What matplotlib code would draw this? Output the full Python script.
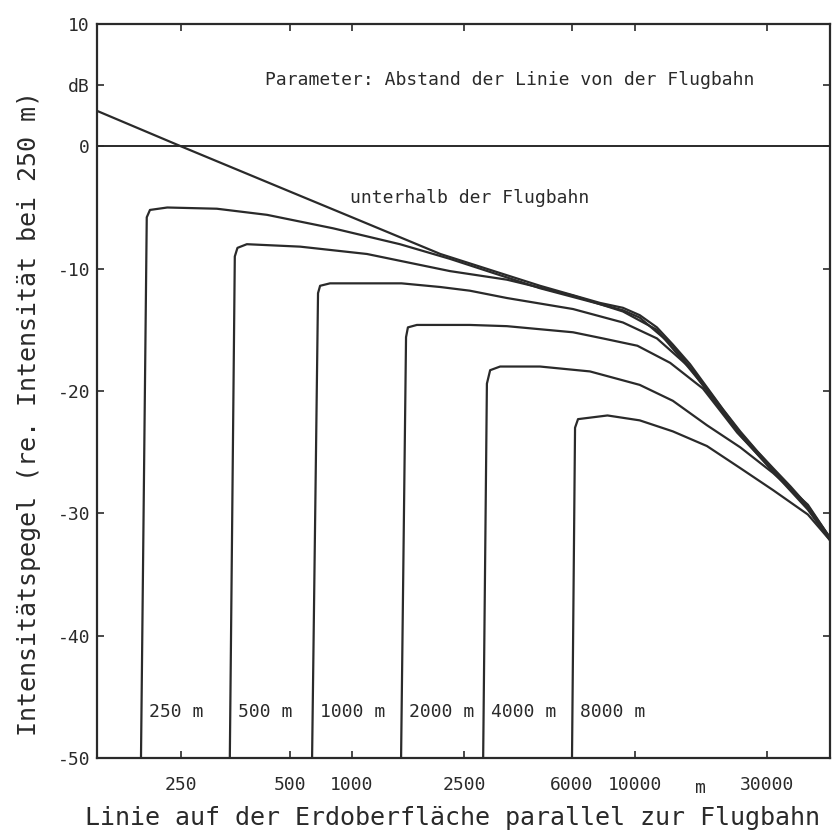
import numpy as np
import matplotlib
matplotlib.use("Agg")
import matplotlib.pyplot as plt

plt.rcParams['font.family'] = ['DejaVu Sans Mono']
plt.rcParams['axes.unicode_minus'] = False

# --- data (x in m, y in dB) ---
x_flugbahn = [150, 250, 500, 1000, 2060, 4630, 7530, 9070, 10400, 12000, 13700,
              15800, 18200, 20800, 24000, 27600, 31500, 36300, 41800, 50000]
y_flugbahn = [2.9, 0.0, -3.7, -5.8, -8.8, -11.4, -12.8, -13.2, -13.8, -14.8, -16.2,
              -17.8, -19.7, -21.5, -23.3, -24.9, -26.3, -27.8, -29.4, -32.0]

x_250 = [196, 203, 207, 230, 314, 432, 809, 1480, 2230, 4630, 9070, 10400, 13700,
         18200, 24000, 31500, 41800, 50000]
y_250 = [-50, -5.8, -5.2, -5.0, -5.1, -5.6, -6.7, -8.0, -9.2, -11.6, -13.4, -14.0,
         -16.3, -19.8, -23.4, -26.4, -29.5, -32.0]

x_500 = [341, 352, 358, 380, 560, 1130, 2230, 3540, 6050, 9070, 12000, 14500, 18200,
         24000, 31500, 41800, 50000]
y_500 = [-50, -9.0, -8.3, -8.0, -8.2, -8.8, -10.2, -10.9, -12.2, -13.5, -15.0, -17.2,
         -19.9, -23.5, -26.5, -29.6, -32.1]

x_1000 = [640, 684, 700, 782, 1500, 2060, 2620, 3540, 6050, 9070, 12000, 15800,
          18200, 24000, 31500, 41800, 50000]
y_1000 = [-50, -12.0, -11.4, -11.2, -11.2, -11.5, -11.8, -12.4, -13.3, -14.4, -15.7,
          -18.1, -20.0, -23.6, -26.6, -29.7, -32.2]

x_2000 = [1494, 1556, 1580, 1700, 2620, 3540, 6050, 7700, 10200, 13400, 17600, 20300,
          23400, 31500, 41800, 50000]
y_2000 = [-50, -15.6, -14.8, -14.6, -14.6, -14.7, -15.2, -15.7, -16.3, -17.7, -19.8,
          -21.6, -23.4, -26.5, -29.6, -32.1]

x_4000 = [2920, 3010, 3090, 3350, 4630, 6940, 10400, 13700, 18200, 24000, 31500,
          41800, 50000]
y_4000 = [-50, -19.4, -18.3, -18.0, -18.0, -18.4, -19.5, -20.8, -22.8, -24.6, -26.7,
          -29.3, -32.0]

x_8000 = [6000, 6150, 6300, 8000, 10400, 13700, 18200, 24000, 31500, 41800, 50000]
y_8000 = [-50, -23.0, -22.3, -22.0, -22.4, -23.3, -24.5, -26.3, -28.1, -30.1, -32.2]

curves = [(x_250, y_250, "250 m"), (x_500, y_500, "500 m"), (x_1000, y_1000, "1000 m"),
          (x_2000, y_2000, "2000 m"), (x_4000, y_4000, "4000 m"), (x_8000, y_8000, "8000 m")]

xtick_vals = [250, 500, 1000, 2500, 6000, 10000, 30000]
xtick_labels = ["250", "500", "1000", "2500", "6000", "10000", "30000"]
ytick_vals = [10, 5, 0, -10, -20, -30, -40, -50]
ytick_labels = ["10", "dB", "0", "-10", "-20", "-30", "-40", "-50"]

# the original x axis is not a clean log axis: anchor values -> relative positions
scale_vals = np.log10([150, 250, 500, 1000, 2500, 6000, 10000, 30000, 50000])
scale_pos = np.array([97, 181, 290, 352, 464, 572, 635, 767, 830], dtype=float)


def _interp_ext(v, xp, fp):
    v = np.asarray(v, dtype=float)
    out = np.interp(v, xp, fp)
    lo = v < xp[0]
    hi = v > xp[-1]
    out = np.where(lo, fp[0] + (v - xp[0]) * (fp[1] - fp[0]) / (xp[1] - xp[0]), out)
    out = np.where(hi, fp[-1] + (v - xp[-1]) * (fp[-1] - fp[-2]) / (xp[-1] - xp[-2]), out)
    return out


def fwd(x):
    x = np.clip(np.asarray(x, dtype=float), 1e-6, None)
    return _interp_ext(np.log10(x), scale_vals, scale_pos)


def inv(p):
    return 10 ** _interp_ext(p, scale_pos, scale_vals)


col = '#2a2a2a'
fig = plt.figure(figsize=(8.4, 8.35), dpi=100)
ax = fig.add_axes([97 / 840, 1 - 758 / 835, (830 - 97) / 840, (758 - 24) / 835])
ax.set_xscale('function', functions=(fwd, inv))
ax.set_xlim(150, 50000)
ax.set_ylim(-50, 10)

ax.axhline(0, color=col, lw=1.4)
ax.plot(x_flugbahn, y_flugbahn, color=col, lw=1.6)
for xs, ys, lab in curves:
    ax.plot(xs, ys, color=col, lw=1.6, solid_joinstyle='round')
    ax.annotate(lab, xy=(xs[0], -46.2), xytext=(6, 0), textcoords='offset points',
                va='center', ha='left', fontsize=13, color=col)

ax.text(0.229, 0.924, "Parameter: Abstand der Linie von der Flugbahn",
        transform=ax.transAxes, fontsize=13, va='center', ha='left', color=col)
ax.text(0.345, 0.763, "unterhalb der Flugbahn",
        transform=ax.transAxes, fontsize=13, va='center', ha='left', color=col)

ax.set_xticks(xtick_vals)
ax.set_xticklabels(xtick_labels)
ax.xaxis.set_minor_locator(matplotlib.ticker.NullLocator())
ax.set_yticks(ytick_vals)
ax.set_yticklabels(ytick_labels)
ax.tick_params(direction='in', length=5, width=1.2, colors=col, labelsize=13,
               top=True, right=True)
ax.tick_params(axis='x', pad=13)
ax.tick_params(axis='y', pad=5)
ax.text(17200, -0.048, "m", transform=ax.get_xaxis_transform(), fontsize=13,
        ha='center', va='baseline', color=col)

for s in ax.spines.values():
    s.set_linewidth(1.6)
    s.set_color(col)

ax.set_xlabel("Linie auf der Erdoberfläche parallel zur Flugbahn", fontsize=18,
              color=col, ha='left')
ax.xaxis.set_label_coords(-0.016, -0.066)
ax.set_ylabel("Intensitätspegel (re. Intensität bei 250 m)", fontsize=18,
              color=col)
ax.yaxis.set_label_coords(-0.077, 0.47)

fig.savefig("out.png", dpi=100)
